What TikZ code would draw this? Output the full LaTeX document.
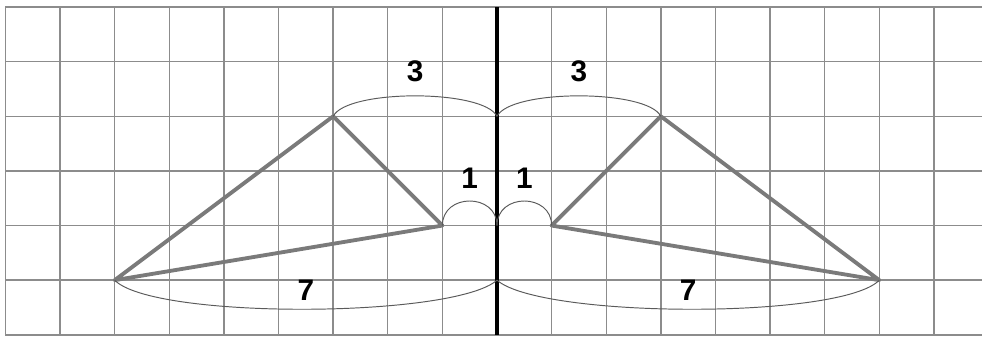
\documentclass[tikz,border=0pt]{standalone}
\usepackage{fontspec}
\setmainfont{Liberation Sans}
\usetikzlibrary{positioning}
\definecolor{gridgray}{HTML}{8C8C8C}
\definecolor{edgegray}{HTML}{7A7A7A}
\definecolor{arcgray}{HTML}{5A5A5A}

\begin{document}
\begin{tikzpicture}[x=1cm,y=1cm,
  gridline/.style={draw=gridgray,line width=0.75pt},
  edge/.style={draw=edgegray,line width=2pt,line join=round},
  span/.style={draw=arcgray,line width=0.5pt},
  lab/.style={font=\bfseries\fontsize{15.5}{15.5}\selectfont,inner sep=0pt}]
\useasboundingbox (-9.10,-0.07) rectangle (8.88,6.13);
% grid
\foreach \y in {0,...,6} \draw[gridline] (-9,\y)--(8.88,\y);
\foreach \x in {-9,...,8} \draw[gridline] (\x,0)--(\x,6);
% axis of symmetry
\coordinate (top) at (0,6);
\coordinate (bot) at (0,0);
\draw[line width=2.2pt] (top)--(bot);
% vertices
\coordinate (la) at (-7,1);
\coordinate (lb) at (-3,4);
\coordinate (lc) at (-1,2);
\coordinate (ra) at (7,1);
\coordinate (rb) at (3,4);
\coordinate (rc) at (1,2);
\coordinate (m1) at (0,1);
\coordinate (m2) at (0,2);
\coordinate (m4) at (0,4);
% triangles
\draw[edge] (la)--(lb)--(lc)--cycle;
\draw[edge] (ra)--(rb)--(rc)--cycle;
% distances to the axis
\draw[span] (lb) .. controls (-2.75,4.5) and (-0.25,4.5) .. (m4);
\draw[span] (rb) .. controls (2.75,4.5) and (0.25,4.5) .. (m4);
\draw[span] (lc) .. controls (-1,2.6) and (0,2.6) .. (m2);
\draw[span] (rc) .. controls (1,2.6) and (0,2.6) .. (m2);
\draw[span] (la) .. controls (-6.3,0.28) and (-0.8,0.3) .. (m1);
\draw[span] (ra) .. controls (6.3,0.28) and (0.8,0.3) .. (m1);
\node[lab] (three l) at (-1.5,4.83) {3};
\node[lab] (three r) at (1.5,4.83) {3};
\node[lab] (one l) at (-0.5,2.87) {1};
\node[lab] (one r) at (0.5,2.87) {1};
\node[lab] (seven l) at (-3.5,0.82) {7};
\node[lab] (seven r) at (3.5,0.82) {7};
\end{tikzpicture}
\end{document}
